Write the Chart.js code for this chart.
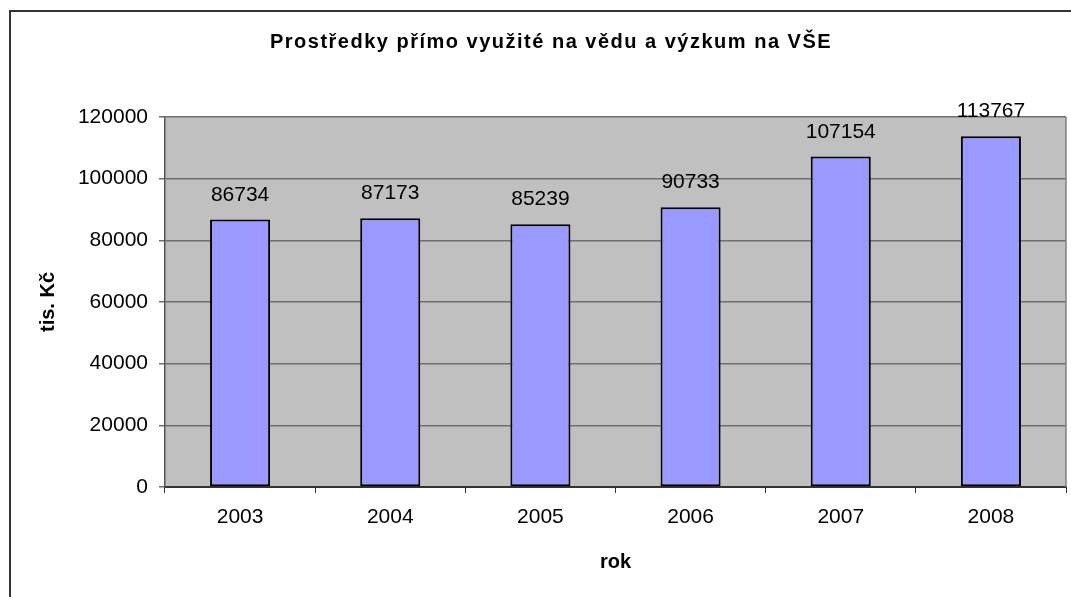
<!DOCTYPE html>
<html>
<head>
<meta charset="utf-8">
<script src="https://cdn.jsdelivr.net/npm/chart.js@4/dist/chart.umd.min.js"></script>
<style>
  html, body { margin: 0; padding: 0; background: #fff; }
  #wrap { width: 1071px; height: 597px; position: relative; }
</style>
</head>
<body>
<div id="wrap"><canvas id="graf" width="1071" height="597"></canvas></div>
<script>
const years = ["2003", "2004", "2005", "2006", "2007", "2008"];
const amounts = [86734, 87173, 85239, 90733, 107154, 113767];
const yTicks = [0, 20000, 40000, 60000, 80000, 100000, 120000];

const chartTitle = "Prostředky přímo využité na vědu a výzkum na VŠE";
const yTitle = "tis. Kč";
const xTitle = "rok";

const fontFamily = "'Liberation Sans', Arial, sans-serif";

// plot background, right border, outer frame and the spaced-out title
const framePlugin = {
  id: "frame",
  beforeDraw(chart) {
    const ctx = chart.ctx;
    const a = chart.chartArea;
    ctx.save();
    ctx.fillStyle = "#c0c0c0";
    ctx.fillRect(a.left, a.top, a.right - a.left, a.bottom - a.top);
    ctx.strokeStyle = "#333";
    ctx.lineWidth = 2;
    ctx.beginPath();
    ctx.moveTo(10, chart.height);
    ctx.lineTo(10, 11);
    ctx.lineTo(chart.width, 11);
    ctx.stroke();

    ctx.font = "bold 20px " + fontFamily;
    ctx.letterSpacing = "1.5px";
    ctx.fillStyle = "#000";
    ctx.textAlign = "center";
    ctx.textBaseline = "middle";
    ctx.fillText(chartTitle, 551, 42);
    ctx.restore();
  },
  afterDatasetsDraw(chart) {
    const ctx = chart.ctx;
    const a = chart.chartArea;
    ctx.save();
    ctx.strokeStyle = "#808080";
    ctx.lineWidth = 1.5;
    ctx.beginPath();
    ctx.moveTo(a.right, a.top);
    ctx.lineTo(a.right, a.bottom);
    ctx.stroke();
    ctx.restore();
  }
};

// value labels above the bars
const valueLabels = {
  id: "valueLabels",
  afterDatasetsDraw(chart) {
    const ctx = chart.ctx;
    const meta = chart.getDatasetMeta(0);
    ctx.save();
    ctx.font = "21px " + fontFamily;
    ctx.fillStyle = "#000";
    ctx.textAlign = "center";
    ctx.textBaseline = "alphabetic";
    meta.data.forEach((bar, i) => {
      ctx.fillText(String(amounts[i]), bar.x, bar.y - 19);
    });
    ctx.restore();
  }
};

new Chart(document.getElementById("graf"), {
  type: "bar",
  data: {
    labels: years,
    datasets: [{
      data: amounts,
      backgroundColor: "#9999ff",
      borderColor: "#000",
      borderWidth: 2,
      borderSkipped: false,
      categoryPercentage: 1,
      barPercentage: 0.4,
    }]
  },
  plugins: [framePlugin, valueLabels],
  options: {
    responsive: false,
    animation: false,
    layout: { padding: { left: 0, right: 5, top: 117, bottom: 0 } },
    plugins: {
      legend: { display: false },
      tooltip: { enabled: false },
      title: { display: false }
    },
    scales: {
      x: {
        afterFit(scale) { scale.height = 110; },
        grid: { drawOnChartArea: false, color: "#333", tickLength: 6, lineWidth: 1 },
        border: { color: "#333", width: 2 },
        ticks: { color: "#000", padding: 12, font: { family: fontFamily, size: 21 } },
        title: {
          display: true,
          text: xTitle,
          color: "#000",
          font: { family: fontFamily, size: 20, weight: "bold" },
          padding: { top: 0, bottom: 23 },
        }
      },
      y: {
        min: 0,
        max: 120000,
        afterFit(scale) { scale.width = 165; },
        afterBuildTicks(scale) { scale.ticks = yTicks.map(v => ({ value: v })); },
        grid: { color: "#6e6e6e", tickLength: 6, lineWidth: 1.5 },
        border: { color: "#555", width: 1.5 },
        ticks: {
          color: "#000",
          padding: 11,
          font: { family: fontFamily, size: 21 },
          callback: (v) => String(v),
        },
        title: {
          display: true,
          text: yTitle,
          color: "#000",
          font: { family: fontFamily, size: 20, weight: "bold" },
          padding: { top: 36, bottom: 0 },
        }
      }
    }
  }
});
</script>
</body>
</html>
